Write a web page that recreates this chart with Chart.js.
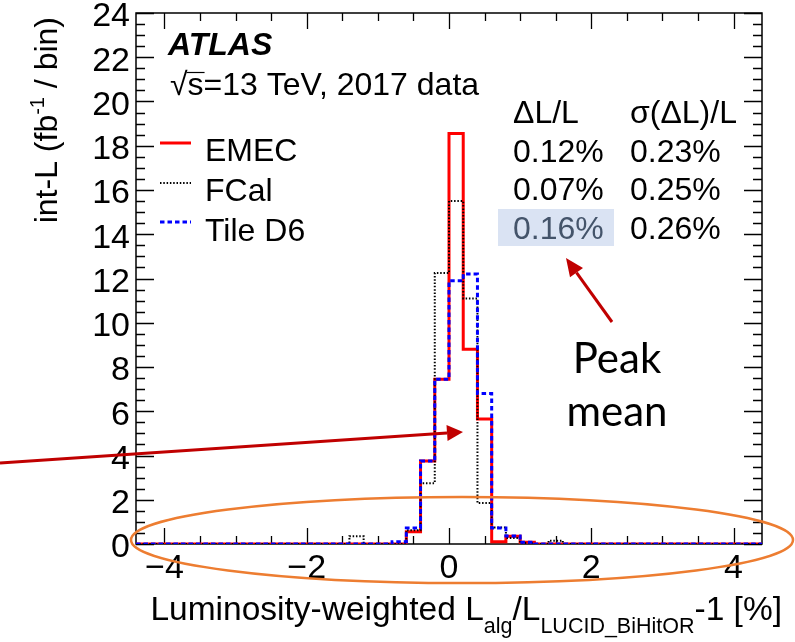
<!DOCTYPE html>
<html>
<head>
<meta charset="utf-8">
<script src="https://cdn.jsdelivr.net/npm/chart.js@4/dist/chart.umd.min.js"></script>
<style>
  html, body { margin: 0; padding: 0; background: #fff; }
  #wrap { width: 795px; height: 642px; position: relative; }
</style>
</head>
<body>
<div id="wrap"><canvas id="c" width="795" height="642"></canvas></div>
<script>
// Histogram bin edges (0.2 % wide bins from -4.4 % to +4.4 %)
const binEdges = [
  -4.4, -4.2, -4.0, -3.8, -3.6, -3.4, -3.2, -3.0, -2.8, -2.6, -2.4, -2.2,
  -2.0, -1.8, -1.6, -1.4, -1.2, -1.0, -0.8, -0.6, -0.4, -0.2,
   0.0,  0.2,  0.4,  0.6,  0.8,  1.0,  1.2,  1.4,  1.6,  1.8,  2.0,  2.2,
   2.4,  2.6,  2.8,  3.0,  3.2,  3.4,  3.6,  3.8,  4.0,  4.2,  4.4
];

// Integrated luminosity per bin (fb^-1), one value per bin
const emec = [
  0, 0, 0, 0, 0, 0, 0, 0, 0, 0, 0,
  0, 0, 0, 0, 0, 0, 0, 0, 0.55, 3.75, 7.45,
  18.55, 8.8, 5.65, 0.1, 0.35, 0.08, 0, 0, 0, 0, 0,
  0, 0, 0, 0, 0, 0, 0, 0, 0, 0, 0
];
const fcal = [
  0, 0, 0, 0, 0, 0, 0, 0, 0, 0, 0,
  0, 0, 0, 0, 0.35, 0, 0, 0, 0.62, 2.75, 12.25,
  15.5, 11.1, 1.85, 0.75, 0.27, 0.05, 0, 0.15, 0, 0, 0,
  0, 0, 0, 0, 0, 0, 0, 0, 0, 0, 0
];
const tileD6 = [
  0, 0, 0, 0, 0, 0, 0, 0, 0, 0, 0,
  0, 0, 0, 0, 0, 0, 0, 0.1, 0.72, 3.75, 7.45,
  11.9, 12.2, 6.8, 0.72, 0.36, 0.08, 0, 0, 0, 0, 0,
  0, 0, 0, 0, 0, 0, 0, 0, 0, 0, 0
];

const seriesNames = ['EMEC', 'FCal', 'Tile D6'];
const meanShift = ['0.12%', '0.07%', '0.16%'];
const shiftSpread = ['0.23%', '0.25%', '0.26%'];
const xTickValues = [-4, -2, 0, 2, 4];

const SANS = "'Liberation Sans', Arial, Helvetica, sans-serif";

// Turn a per-bin array into step points at the bin edges
function histPoints(values) {
  const pts = values.map((v, i) => ({ x: binEdges[i], y: v }));
  pts.push({ x: binEdges[binEdges.length - 1], y: values[values.length - 1] });
  return pts;
}

const styles = [
  { color: '#ff0000', width: 3, dash: [] },
  { color: '#000000', width: 2, dash: [1.5, 1.8] },
  { color: '#0000ff', width: 3, dash: [4.5, 3] }
];

// Text made of plain, superscript and subscript pieces
function richWidth(ctx, segs) {
  let w = 0;
  for (const s of segs) { ctx.font = s.font; s.w = ctx.measureText(s.t).width; w += s.w; }
  return w;
}
function drawRich(ctx, segs, x, y, align) {
  const w = richWidth(ctx, segs);
  let cx = align === 'right' ? x - w : (align === 'center' ? x - w / 2 : x);
  for (const s of segs) {
    ctx.font = s.font;
    ctx.fillText(s.t, cx, y + (s.dy || 0));
    cx += s.w;
  }
}

function arrow(ctx, x0, y0, x1, y1, headLen, headHalf) {
  const ang = Math.atan2(y1 - y0, x1 - x0);
  const bx = x1 - headLen * Math.cos(ang), by = y1 - headLen * Math.sin(ang);
  ctx.beginPath(); ctx.moveTo(x0, y0); ctx.lineTo(bx, by); ctx.stroke();
  ctx.beginPath();
  ctx.moveTo(x1, y1);
  ctx.lineTo(bx + headHalf * Math.sin(ang), by - headHalf * Math.cos(ang));
  ctx.lineTo(bx - headHalf * Math.sin(ang), by + headHalf * Math.cos(ang));
  ctx.closePath(); ctx.fill();
}

// Frame with inward ticks on all four sides
const framePlugin = {
  id: 'frame',
  beforeDatasetsDraw(chart) {
    const { ctx, chartArea: a, scales: { x, y } } = chart;
    ctx.save();
    ctx.strokeStyle = '#000';
    ctx.lineWidth = 1.5;
    ctx.strokeRect(a.left, a.top, a.right - a.left, a.bottom - a.top);
    ctx.lineWidth = 1.3;
    ctx.beginPath();
    for (let k = 0; k <= 48; k++) {
      const py = Math.round(y.getPixelForValue(k * 0.5)) + 0.5;
      const L = k % 4 === 0 ? 18 : 9;
      ctx.moveTo(a.left, py); ctx.lineTo(a.left + L, py);
      ctx.moveTo(a.right, py); ctx.lineTo(a.right - L, py);
    }
    for (let k = -8; k <= 8; k++) {
      const px = Math.round(x.getPixelForValue(k * 0.5)) + 0.5;
      const L = k % 4 === 0 ? 16 : 8;
      ctx.moveTo(px, a.bottom); ctx.lineTo(px, a.bottom - L);
      ctx.moveTo(px, a.top); ctx.lineTo(px, a.top + L);
    }
    ctx.stroke();
    ctx.restore();
  }
};

// Titles, legend, result table and the slide annotations
const textPlugin = {
  id: 'texts',
  afterDraw(chart) {
    const ctx = chart.ctx;
    ctx.save();
    ctx.fillStyle = '#000';
    ctx.textBaseline = 'alphabetic';

    // y-axis title
    ctx.save();
    ctx.translate(57, 17);
    ctx.rotate(-Math.PI / 2);
    drawRich(ctx, [
      { t: 'int-L (fb', font: `32px ${SANS}` },
      { t: '-1', font: `20px ${SANS}`, dy: -13 },
      { t: ' / bin)', font: `32px ${SANS}` }
    ], 0, 0, 'right');
    ctx.restore();

    // x-axis title
    drawRich(ctx, [
      { t: 'Luminosity-weighted L', font: `33.5px ${SANS}` },
      { t: 'alg', font: `21.5px ${SANS}`, dy: 13 },
      { t: '/L', font: `33.5px ${SANS}` },
      { t: 'LUCID_BiHitOR', font: `21.5px ${SANS}`, dy: 13 },
      { t: '-1 [%]', font: `33.5px ${SANS}` }
    ], 782, 620, 'right');

    // ATLAS label
    ctx.font = `italic bold 32px ${SANS}`;
    ctx.fillText('ATLAS', 168, 55);
    ctx.font = `32px ${SANS}`;
    ctx.fillText('\u221As=13 TeV, 2017 data', 170, 95);
    const sqW = ctx.measureText('\u221A').width;
    const sW = ctx.measureText('s').width;
    ctx.lineWidth = 1.2;
    ctx.beginPath();
    ctx.moveTo(170 + sqW - 1, 72.5); ctx.lineTo(170 + sqW + sW + 1, 72.5);
    ctx.stroke();

    // legend
    const legY = [143, 183, 222];
    const legBase = [161, 201, 241];
    styles.forEach((s, i) => {
      ctx.strokeStyle = s.color; ctx.lineWidth = s.width; ctx.setLineDash(s.dash);
      ctx.beginPath(); ctx.moveTo(160, legY[i]); ctx.lineTo(191, legY[i]); ctx.stroke();
      ctx.setLineDash([]);
      ctx.fillStyle = '#000';
      ctx.font = `32px ${SANS}`;
      ctx.fillText(seriesNames[i], 205, legBase[i]);
    });

    // result table
    ctx.fillStyle = '#dae3f3';
    ctx.fillRect(498, 209, 116, 37);
    ctx.font = `32px ${SANS}`;
    ctx.fillStyle = '#000';
    ctx.fillText('\u0394L/L', 513, 123);
    ctx.fillText('\u03C3(\u0394L)/L', 630, 123);
    const rowBase = [162, 200, 239];
    meanShift.forEach((t, i) => {
      ctx.fillStyle = i === 2 ? '#44546a' : '#000';
      ctx.fillText(t, 513, rowBase[i]);
      ctx.fillStyle = '#000';
      ctx.fillText(shiftSpread[i], 630, rowBase[i]);
    });

    // annotation text
    ctx.font = `42px Lato, 'Open Sans', sans-serif`;
    ctx.textAlign = 'center';
    ctx.fillText('Peak', 617, 373);
    ctx.fillText('mean', 617, 426);
    ctx.textAlign = 'left';

    // arrows
    ctx.strokeStyle = '#c00000'; ctx.fillStyle = '#c00000'; ctx.lineWidth = 3;
    arrow(ctx, 0, 463, 463, 432, 16, 8);
    arrow(ctx, 612, 322, 566, 258, 18, 8);

    // ellipse around the horizontal axis
    ctx.strokeStyle = '#ed7d31'; ctx.lineWidth = 2.5;
    ctx.beginPath();
    ctx.ellipse(462, 540, 331, 43, 0, 0, Math.PI * 2);
    ctx.stroke();
    ctx.restore();
  }
};

const datasets = [emec, fcal, tileD6].map((vals, i) => ({
  label: seriesNames[i],
  data: histPoints(vals),
  stepped: 'before',
  borderColor: styles[i].color,
  borderWidth: styles[i].width,
  borderDash: styles[i].dash,
  pointRadius: 0,
  fill: false,
  order: 3 - i
}));

// keep the plot frame where the layout padding puts it
function noScalePadding(s) {
  s.paddingTop = 0; s.paddingBottom = 0; s.paddingLeft = 0; s.paddingRight = 0;
}

new Chart(document.getElementById('c'), {
  type: 'line',
  data: { datasets },
  options: {
    responsive: false,
    animation: false,
    devicePixelRatio: 1,
    layout: { padding: { top: 13, right: 33, left: 0, bottom: 0 } },
    plugins: { legend: { display: false }, tooltip: { enabled: false } },
    scales: {
      x: {
        type: 'linear',
        min: -4.4, max: 4.4,
        afterBuildTicks: s => { s.ticks = xTickValues.map(v => ({ value: v })); },
        afterFit: s => { s.height = 98; noScalePadding(s); },
        grid: { display: false, drawTicks: false },
        border: { display: false },
        ticks: {
          color: '#000', padding: 4, maxRotation: 0,
          font: { family: SANS, size: 34 },
          callback: v => (v < 0 ? '\u2212' + Math.abs(v) : String(v))
        }
      },
      y: {
        type: 'linear',
        min: 0, max: 24,
        afterFit: s => { s.width = 136; noScalePadding(s); },
        grid: { display: false, drawTicks: false },
        border: { display: false },
        ticks: {
          color: '#000', padding: 6, stepSize: 2, labelOffset: 4,
          font: { family: SANS, size: 34 }
        }
      }
    }
  },
  plugins: [framePlugin, textPlugin]
});
</script>
</body>
</html>
